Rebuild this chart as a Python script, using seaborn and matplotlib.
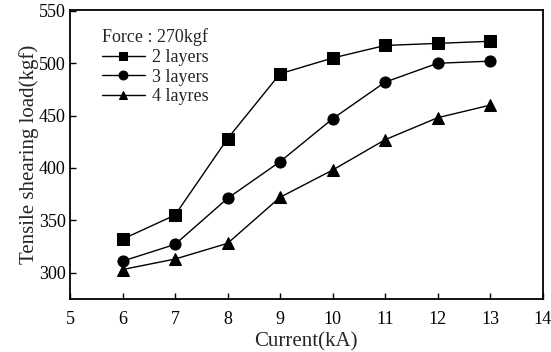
import pandas as pd
import numpy as np
import matplotlib.pyplot as plt
import seaborn as sns

current = [6, 7, 8, 9, 10, 11, 12, 13]
layers2 = [332, 355, 428, 490, 505, 517, 519, 521]
layers3 = [311, 327, 371, 406, 447, 482, 500, 502]
layers4 = [303, 313, 328, 372, 398, 427, 448, 460]
series = ["2 layers", "3 layers", "4 layres"]

df = pd.DataFrame({
    "Current": current * 3,
    "Load": layers2 + layers3 + layers4,
    "Series": [s for s in series for _ in current],
})

sns.set_style("ticks")
plt.rcParams["font.family"] = ["Liberation Serif", "DejaVu Serif"]

fig = plt.figure(figsize=(5.51, 3.52), dpi=100)
ax = fig.add_axes([0.127, 0.151, 0.858, 0.821])

sns.lineplot(data=df, x="Current", y="Load", hue="Series", style="Series",
             palette=["black"] * 3, markers=["s", "o", "^"], dashes=False,
             markersize=8, linewidth=1, markeredgecolor="black", ax=ax)

ax.set_xlim(5, 14)
ax.set_ylim(275, 551)
ax.set_xticks(range(5, 15))
ax.set_yticks(range(300, 551, 50))
ax.tick_params(direction="in", length=4, width=1, labelsize=13, colors="black")
ax.tick_params(axis="x", pad=9)
ax.tick_params(axis="y", pad=3)
for sp in ax.spines.values():
    sp.set_linewidth(1.3)
    sp.set_color("black")
ax.set_xlabel("Current(kA)", fontsize=15, labelpad=3)
ax.set_ylabel("Tensile shearing load(kgf)", fontsize=15, labelpad=0)

leg = ax.legend(title="Force : 270kgf", loc="upper left", frameon=False,
                fontsize=13, title_fontsize=13, handlelength=2.4,
                borderaxespad=0.3, labelspacing=0.15, handletextpad=0.4,
                markerscale=0.8, bbox_to_anchor=(0.04, 0.98))
leg._legend_box.align = "left"

fig.savefig("out.png", dpi=100)
